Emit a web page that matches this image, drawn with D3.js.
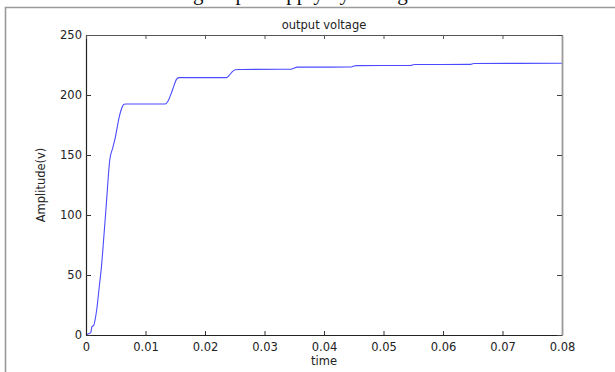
<!DOCTYPE html>
<html>
<head>
<meta charset="utf-8">
<script src="https://cdn.jsdelivr.net/npm/d3@7"></script>
<style>
  html, body { margin: 0; padding: 0; background: #fff; }
  svg { display: block; }
  .tick text { font-family: "DejaVu Sans", sans-serif; font-size: 11.5px; fill: #222; }
</style>
</head>
<body>
<svg id="chart" width="615" height="372"></svg>
<script>
// Simulated output voltage (V) over time (s)
const time = [0, 0.0004, 0.0008, 0.0010, 0.0013, 0.0015, 0.0018, 0.0022, 0.0026, 0.0030,
  0.0034, 0.0040, 0.0045, 0.0049, 0.0056, 0.0060, 0.0064, 0.0068, 0.0133, 0.0138,
  0.0143, 0.0148, 0.0152, 0.0156, 0.0160, 0.0236, 0.0241, 0.0246, 0.0251, 0.0256,
  0.0260, 0.0345, 0.0350, 0.0355, 0.0360, 0.0445, 0.0450, 0.0455, 0.0545, 0.0552,
  0.0645, 0.0652, 0.0800];
const voltage = [0, 1, 2, 7, 8, 12, 21, 39, 57, 82,
  108, 146, 156, 164, 182, 189, 192.3, 192.5, 192.5, 195,
  201, 208, 213, 214.5, 214.5, 214.5, 216.5, 219.5, 221, 221.3,
  221.3, 221.5, 222.5, 223.2, 223.2, 223.3, 224.2, 224.5, 224.6, 225.4,
  225.5, 226.3, 226.4];

const xTicks = [0, 0.01, 0.02, 0.03, 0.04, 0.05, 0.06, 0.07, 0.08];
const xTickLabels = ["0", "0.01", "0.02", "0.03", "0.04", "0.05", "0.06", "0.07", "0.08"];
const yTicks = [0, 50, 100, 150, 200, 250];
const yTickLabels = ["0", "50", "100", "150", "200", "250"];

const titleText = "output voltage";
const xLabel = "time";
const yLabel = "Amplitude(v)";
const captionText = "using output supply by voltage";

const svg = d3.select("#chart");
const plotLeft = 86, plotRight = 562, plotTop = 35, plotBottom = 335;

const x = d3.scaleLinear().domain([0, 0.08]).range([plotLeft, plotRight]);
const y = d3.scaleLinear().domain([0, 250]).range([plotBottom, plotTop]);

// page frame around the figure
svg.append("path")
  .attr("d", `M5.5,372 V7.5 H615`)
  .attr("fill", "none").attr("stroke", "#9a9a9a").attr("stroke-width", 1.6);

// caption line of the page above, running off the top edge
svg.append("text")
  .attr("x", 158).attr("y", -0.5)
  .attr("font-family", "Liberation Serif, serif")
  .attr("font-size", 21).attr("fill", "#111")
  .text(captionText);

// data line
const line = d3.line()
  .x((d, i) => x(time[i]))
  .y(d => y(d))
  .curve(d3.curveMonotoneX);

svg.append("path")
  .datum(voltage)
  .attr("d", line)
  .attr("fill", "none")
  .attr("stroke", "#4b4bff")
  .attr("stroke-width", 1.1);

// axes (inward ticks on all four sides)
const xi = d => xTickLabels[xTicks.indexOf(d)];
const yi = d => yTickLabels[yTicks.indexOf(d)];

const gB = svg.append("g").attr("transform", `translate(0,${plotBottom})`)
  .call(d3.axisBottom(x).tickValues(xTicks).tickFormat(xi).tickSize(-4).tickSizeOuter(0).tickPadding(8));
const gL = svg.append("g").attr("transform", `translate(${plotLeft},0)`)
  .call(d3.axisLeft(y).tickValues(yTicks).tickFormat(yi).tickSize(-5).tickSizeOuter(0).tickPadding(4));
const gT = svg.append("g").attr("transform", `translate(0,${plotTop})`)
  .call(d3.axisTop(x).tickValues(xTicks).tickFormat("").tickSize(-4).tickSizeOuter(0));
const gR = svg.append("g").attr("transform", `translate(${plotRight},0)`)
  .call(d3.axisRight(y).tickValues(yTicks).tickFormat("").tickSize(-5).tickSizeOuter(0));

[gB, gL].forEach(g => {
  g.select(".domain").attr("stroke", "#222").attr("stroke-width", 1.2);
  g.selectAll(".tick line").attr("stroke", "#333");
});
gT.select(".domain").attr("stroke", "#555").attr("stroke-width", 1.2);
gT.selectAll(".tick line").attr("stroke", "#555");
gR.select(".domain").attr("stroke", "#9a9a9a").attr("stroke-width", 1.8);
gR.selectAll(".tick line").attr("stroke", "#444");

// title and axis labels
svg.append("text")
  .attr("x", (plotLeft + plotRight) / 2).attr("y", 29)
  .attr("text-anchor", "middle")
  .attr("font-family", "DejaVu Sans, sans-serif").attr("font-size", 11.5).attr("fill", "#222")
  .text(titleText);

svg.append("text")
  .attr("x", (plotLeft + plotRight) / 2).attr("y", 365)
  .attr("text-anchor", "middle")
  .attr("font-family", "DejaVu Sans, sans-serif").attr("font-size", 11.5).attr("fill", "#222")
  .text(xLabel);

svg.append("text")
  .attr("transform", `translate(45,${(plotTop + plotBottom) / 2}) rotate(-90)`)
  .attr("text-anchor", "middle")
  .attr("font-family", "DejaVu Sans, sans-serif").attr("font-size", 11.5).attr("fill", "#222")
  .text(yLabel);
</script>
</body>
</html>
